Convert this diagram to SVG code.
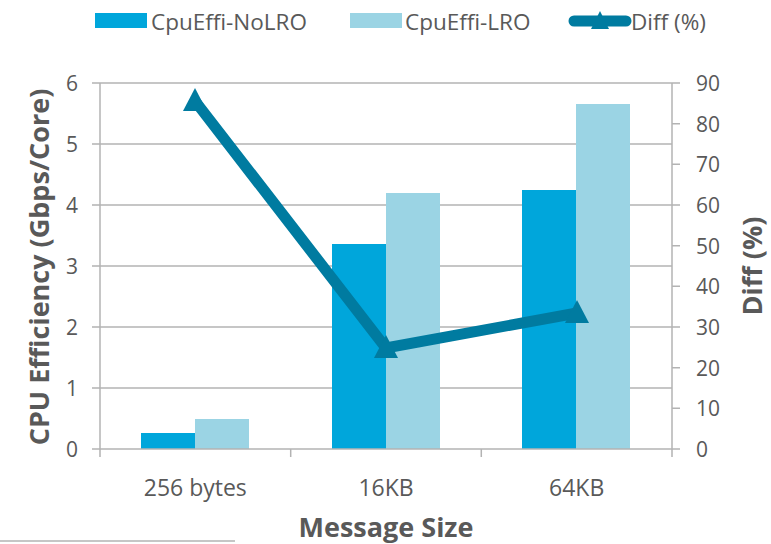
<svg xmlns="http://www.w3.org/2000/svg" width="771" height="544" viewBox="0 0 771 544">
  <style>
    .grid { stroke: #b3b3b3; stroke-width: 1.5; fill: none; }
    .axis { stroke: #b3b3b3; stroke-width: 1.5; fill: none; }
    .tick { font-family: "Open Sans", "Liberation Sans", sans-serif; font-size: 21px; fill: #595959; }
    .cat { font-family: "Open Sans", "Liberation Sans", sans-serif; font-size: 23px; fill: #595959; }
    .title { font-family: "Open Sans", "Liberation Sans", sans-serif; font-size: 27px; font-weight: bold; fill: #595959; }
    .legend { font-family: "Open Sans", "Liberation Sans", sans-serif; font-size: 22.5px; fill: #595959; }
    .nolro { fill: #00a6db; }
    .lro { fill: #9bd4e4; }
    .diff { stroke: #007ba0; stroke-width: 11; fill: none; stroke-linejoin: miter; }
    .mark { fill: #007ba0; }
  </style>
  <defs>
    <polygon id="tri" points="0,-13 12,10 -12,10"/>
  </defs>
  <rect width="771" height="544" fill="#ffffff"/>

  <!-- gridlines -->
  <g id="gridlines">
    <line class="grid" x1="100" y1="83" x2="672" y2="83"/>
    <line class="grid" x1="100" y1="144" x2="672" y2="144"/>
    <line class="grid" x1="100" y1="205" x2="672" y2="205"/>
    <line class="grid" x1="100" y1="266" x2="672" y2="266"/>
    <line class="grid" x1="100" y1="327" x2="672" y2="327"/>
    <line class="grid" x1="100" y1="388" x2="672" y2="388"/>
  </g>

  <!-- bars -->
  <g id="bars-nolro">
    <rect class="nolro" x="141" y="433" width="54" height="16"/>
    <rect class="nolro" x="332" y="244" width="54" height="205"/>
    <rect class="nolro" x="522" y="190" width="54" height="259"/>
  </g>
  <g id="bars-lro">
    <rect class="lro" x="195" y="419" width="54" height="30"/>
    <rect class="lro" x="386" y="193" width="54" height="256"/>
    <rect class="lro" x="576" y="104" width="54" height="345"/>
  </g>

  <!-- axes -->
  <g id="axes">
    <line class="axis" x1="100" y1="83" x2="100" y2="449"/>
    <line class="axis" x1="672" y1="83" x2="672" y2="449"/>
    <line class="axis" x1="92" y1="449" x2="680" y2="449"/>
    <!-- left ticks -->
    <path class="axis" d="M92 83H100M92 144H100M92 205H100M92 266H100M92 327H100M92 388H100"/>
    <!-- right ticks, every 10 % -->
    <path class="axis" d="M672 83H680M672 123.7H680M672 164.3H680M672 205H680M672 245.7H680M672 286.3H680M672 327H680M672 367.7H680M672 408.3H680"/>
    <!-- category ticks -->
    <path class="axis" d="M100 449V457M290.7 449V457M481.3 449V457M672 449V457"/>
  </g>

  <!-- diff series -->
  <g id="diff-series">
    <polyline class="diff" points="195,101 386,348 577,313"/>
    <use href="#tri" class="mark" x="195" y="101"/>
    <use href="#tri" class="mark" x="386" y="348"/>
    <use href="#tri" class="mark" x="577" y="313"/>
  </g>

  <!-- left axis labels -->
  <g id="left-labels" class="tick" text-anchor="end">
    <text x="78" y="91">6</text>
    <text x="78" y="152">5</text>
    <text x="78" y="213">4</text>
    <text x="78" y="274">3</text>
    <text x="78" y="335">2</text>
    <text x="78" y="396">1</text>
    <text x="78" y="457">0</text>
  </g>

  <!-- right axis labels -->
  <g id="right-labels" class="tick" text-anchor="start">
    <text x="696" y="91">90</text>
    <text x="696" y="131.7">80</text>
    <text x="696" y="172.3">70</text>
    <text x="696" y="213">60</text>
    <text x="696" y="253.7">50</text>
    <text x="696" y="294.3">40</text>
    <text x="696" y="335">30</text>
    <text x="696" y="375.7">20</text>
    <text x="696" y="416.3">10</text>
    <text x="696" y="457">0</text>
  </g>

  <!-- category labels -->
  <g id="category-labels" class="cat" text-anchor="middle">
    <text x="195.3" y="496">256 bytes</text>
    <text x="386" y="496">16KB</text>
    <text x="576.7" y="496">64KB</text>
  </g>

  <!-- axis titles -->
  <text class="title" text-anchor="middle" transform="translate(49,267) rotate(-90)">CPU Efficiency (Gbps/Core)</text>
  <text class="title" text-anchor="middle" transform="translate(762,266) rotate(-90)">Diff (%)</text>
  <text class="title" text-anchor="middle" x="386" y="537" font-size="28">Message Size</text>

  <!-- legend -->
  <g id="legend">
    <g id="legend-nolro">
      <rect class="nolro" x="95" y="13" width="52" height="15"/>
      <text class="legend" x="151" y="30">CpuEffi-NoLRO</text>
    </g>
    <g id="legend-lro">
      <rect class="lro" x="350" y="13" width="52" height="15"/>
      <text class="legend" x="405" y="30">CpuEffi-LRO</text>
    </g>
    <g id="legend-diff">
      <line x1="574" y1="21" x2="626" y2="21" stroke="#007ba0" stroke-width="11" stroke-linecap="round"/>
      <polygon class="mark" points="600,11 609,29 591,29"/>
      <text class="legend" x="631" y="30">Diff (%)</text>
    </g>
  </g>

  <!-- footnote rule -->
  <line x1="0" y1="541" x2="235" y2="541" stroke="#b3b3b3" stroke-width="1.5"/>
</svg>
